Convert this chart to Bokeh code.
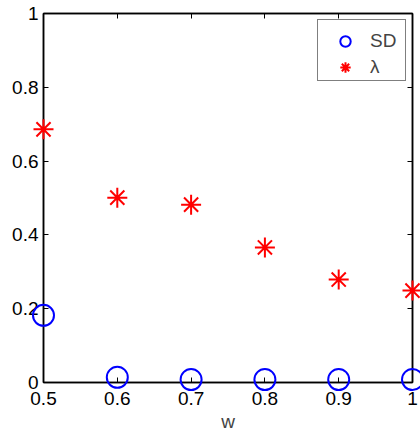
from bokeh.plotting import figure
from bokeh.models import Legend, LegendItem, LinearAxis, FixedTicker, Range1d
from bokeh.embed import file_html
from bokeh.resources import INLINE

w = [0.5, 0.6, 0.7, 0.8, 0.9, 1.0]
sd = [0.182, 0.014, 0.008, 0.008, 0.008, 0.008]
lam = [0.686, 0.501, 0.482, 0.366, 0.279, 0.249]
xticks = [0.5, 0.6, 0.7, 0.8, 0.9, 1.0]
xtick_labels = ["0.5", "0.6", "0.7", "0.8", "0.9", "1"]
yticks = [0, 0.2, 0.4, 0.6, 0.8, 1.0]
ytick_labels = ["0", "0.2", "0.4", "0.6", "0.8", "1"]

FONT = "Liberation Sans"
FS = "19px"

p = figure(width=420, height=434, output_backend="svg", toolbar_location=None,
           x_range=Range1d(0.5, 1.0), y_range=Range1d(0, 1),
           min_border_left=43, min_border_right=8, min_border_top=13, min_border_bottom=52,
           frame_width=369, frame_height=369)
p.xgrid.visible = False
p.ygrid.visible = False
p.outline_line_color = "black"
p.outline_line_width = 1.5
p.background_fill_color = "white"
p.border_fill_color = "white"

def style(ax, ticks, labels, show):
    ax.ticker = FixedTicker(ticks=ticks)
    ax.major_label_overrides = {t: l for t, l in zip(ticks, labels)}
    ax.major_tick_in = 5
    ax.major_tick_out = 0
    ax.minor_tick_in = 0
    ax.minor_tick_out = 0
    ax.axis_line_width = 1.5
    ax.major_tick_line_width = 1
    ax.major_label_text_font = FONT
    ax.major_label_text_font_size = FS
    ax.major_label_text_color = "black"
    if not show:
        ax.major_label_text_alpha = 0
        ax.major_label_text_font_size = "1px"

style(p.xaxis[0], xticks, xtick_labels, True)
style(p.yaxis[0], yticks, ytick_labels, True)
p.xaxis[0].major_label_standoff = 9
p.yaxis[0].major_label_standoff = 5
p.xaxis[0].axis_label = "w"
p.xaxis[0].axis_label_text_font = FONT
p.xaxis[0].axis_label_text_font_size = FS
p.xaxis[0].axis_label_text_font_style = "normal"
p.xaxis[0].axis_label_standoff = 3

top = LinearAxis()
style(top, xticks, xtick_labels, False)
right = LinearAxis()
style(right, yticks, ytick_labels, False)
top.major_label_standoff = 0
right.major_label_standoff = 0
p.add_layout(top, "above")
p.add_layout(right, "right")

# "overlay" level renderers are not clipped to the frame, so edge markers stay whole
r_sd = p.scatter(w, sd, marker="circle", size=21, fill_color=None,
                 line_color="#0000ff", line_width=2, level="overlay")
r_lam = p.scatter(w, lam, marker="asterisk", size=20,
                  line_color="#ff0000", line_width=2, level="overlay")

legend = Legend(items=[LegendItem(label="SD", renderers=[r_sd]),
                       LegendItem(label="λ", renderers=[r_lam])],
                location="top_right")
legend.margin = 6
legend.padding = dict(left=5, right=5, top=8, bottom=0)
legend.spacing = 0
legend.glyph_width = 44
legend.glyph_height = 26
legend.label_height = 20
legend.label_width = 30
legend.label_standoff = 3
legend.label_text_font = FONT
legend.label_text_font_size = FS
legend.border_line_color = "black"
legend.border_line_width = 1
legend.background_fill_alpha = 1
p.add_layout(legend, "center")

open("out.html", "w").write(file_html(p, INLINE))
